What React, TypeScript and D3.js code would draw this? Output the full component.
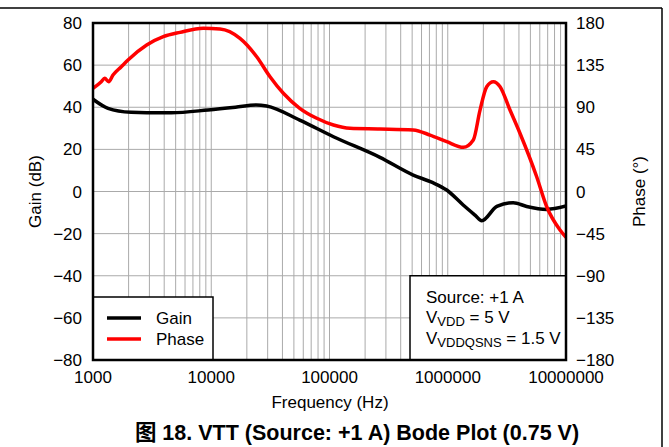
import React from 'react';
import * as d3 from 'd3';

// gain curve (dB)
const gainFreq = [1000, 1340, 2100, 2850, 4600, 9400, 16000, 24000, 29400, 56000, 108000, 267000, 510000, 740000, 980000, 1350000, 1700000, 1940000, 2600000, 3580000, 4650000, 6870000, 10000000];
const gainDb = [43.8, 39.5, 37.6, 37.4, 37.4, 38.7, 40.0, 41.1, 40.6, 33.9, 26.0, 16.2, 7.8, 4.3, 0.7, -6.4, -11.2, -13.9, -7.1, -5.3, -7.1, -8.5, -6.9];

// phase curve (deg)
const phaseFreq = [1000, 1175, 1256, 1357, 1476, 1735, 1977, 2844, 3930, 5445, 8570, 11860, 17500, 24230, 31400, 40700, 56000, 78000, 108000, 149000, 267000, 510000, 708000, 980000, 1355000, 1645000, 1875000, 2135000, 2430000, 2770000, 3360000, 4080000, 5650000, 6870000, 8900000, 10000000];
const phaseDeg = [110.2, 117.3, 121, 117.3, 124.4, 133.3, 140.5, 156.5, 165.4, 170, 174.3, 173.6, 163.6, 144, 122.6, 104.9, 88.9, 78.2, 71.0, 67.5, 66.8, 65.7, 60.3, 53.2, 47.2, 55, 87, 112, 117.3, 112, 87, 62.2, 15.8, -16.3, -41.2, -49];

const xTicks = [1000, 10000, 100000, 1000000, 10000000];
const gainTicks = [80, 60, 40, 20, 0, -20, -40, -60, -80];
const phaseTicks = [180, 135, 90, 45, 0, -45, -90, -135, -180];

const fmt = (v: number) => (v < 0 ? '\u2212' + Math.abs(v) : String(v));

export default function App() {
  const W = 669, H = 447;
  const left = 93, right = 566, top = 23, bottom = 360;
  const font = '"Liberation Sans", Arial, sans-serif';
  const fs = 17;

  const x = d3.scaleLog().domain([1000, 10000000]).range([left, right]);
  const yG = d3.scaleLinear().domain([-80, 80]).range([bottom, top]);
  const yP = d3.scaleLinear().domain([-180, 180]).range([bottom, top]);

  const minor: number[] = [];
  for (let d = 1000; d < 10000000; d *= 10) {
    for (let k = 1; k <= 9; k++) minor.push(d * k);
  }
  minor.push(10000000);

  const gainLine = d3.line<number>()
    .x((_, i) => x(gainFreq[i]))
    .y(d => yG(d))
    .curve(d3.curveMonotoneX);
  const phaseLine = d3.line<number>()
    .x((_, i) => x(phaseFreq[i]))
    .y(d => yP(d))
    .curve(d3.curveMonotoneX);

  return (
    <svg width={W} height={H} style={{ position: 'absolute', left: 0, top: 0, background: '#fff' }} fontFamily={font}>
      {/* outer page border */}
      <line x1={0} x2={662} y1={8} y2={8} stroke="#000" strokeWidth={1.5} />
      <line x1={662} x2={662} y1={8} y2={H} stroke="#000" strokeWidth={1.5} />

      <defs>
        <clipPath id="plot">
          <rect x={left} y={top} width={right - left} height={bottom - top} />
        </clipPath>
      </defs>

      {/* grid */}
      {minor.map((f, i) => (
        <line key={'v' + i} x1={x(f)} x2={x(f)} y1={top} y2={bottom} stroke="#aaa" strokeWidth={1} />
      ))}
      {gainTicks.map(t => (
        <line key={'h' + t} x1={left} x2={right} y1={yG(t)} y2={yG(t)} stroke="#aaa" strokeWidth={1} />
      ))}

      {/* curves */}
      <g clipPath="url(#plot)">
        <path d={gainLine(gainDb) || ''} fill="none" stroke="#000" strokeWidth={3.5} strokeLinejoin="round" />
        <path d={phaseLine(phaseDeg) || ''} fill="none" stroke="#ff0000" strokeWidth={3.5} strokeLinejoin="round" />
      </g>

      {/* legend */}
      <rect x={left} y={297} width={120} height={bottom - 297} fill="#fff" stroke="#000" strokeWidth={1.5} />
      <line x1={107} x2={141} y1={318} y2={318} stroke="#000" strokeWidth={3.5} />
      <line x1={107} x2={141} y1={339} y2={339} stroke="#ff0000" strokeWidth={3.5} />
      <text x={156} y={324} fontSize={fs}>Gain</text>
      <text x={156} y={345} fontSize={fs}>Phase</text>

      {/* conditions */}
      <rect x={410} y={yG(-40)} width={right - 410} height={bottom - yG(-40)} fill="#fff" stroke="#000" strokeWidth={1.5} />
      <text x={426} y={303} fontSize={fs}>Source: +1 A</text>
      <text x={426} y={323} fontSize={fs}>
        V<tspan fontSize={13} dy={3}>VDD</tspan><tspan dy={-3}> = 5 V</tspan>
      </text>
      <text x={426} y={344} fontSize={fs}>
        V<tspan fontSize={13} dy={3}>VDDQSNS</tspan><tspan dy={-3}> = 1.5 V</tspan>
      </text>

      {/* frame */}
      <rect x={left} y={top} width={right - left} height={bottom - top} fill="none" stroke="#000" strokeWidth={2.5} />

      {/* axes labels */}
      {gainTicks.map(t => (
        <text key={'gl' + t} x={82} y={yG(t) + 6} fontSize={fs} textAnchor="end">{fmt(t)}</text>
      ))}
      {phaseTicks.map(t => (
        <text key={'pl' + t} x={576} y={yP(t) + 6} fontSize={fs}>{fmt(t)}</text>
      ))}
      {xTicks.map(t => (
        <text key={'xl' + t} x={x(t)} y={383} fontSize={fs} textAnchor="middle">{t}</text>
      ))}

      <text x={330} y={408} fontSize={fs} textAnchor="middle">Frequency (Hz)</text>
      <text transform={`translate(41,${(top + bottom) / 2}) rotate(-90)`} fontSize={fs} textAnchor="middle">Gain (dB)</text>
      <text transform={`translate(645,${(top + bottom) / 2}) rotate(-90)`} fontSize={fs} textAnchor="middle">Phase (°)</text>

      <text x={357} y={440} fontSize={21.5} fontWeight="bold" textAnchor="middle"
        fontFamily={'"Liberation Sans", Arial, "Noto Sans CJK SC", sans-serif'}>
        图 18. VTT (Source: +1 A) Bode Plot (0.75 V)
      </text>
    </svg>
  );
}
